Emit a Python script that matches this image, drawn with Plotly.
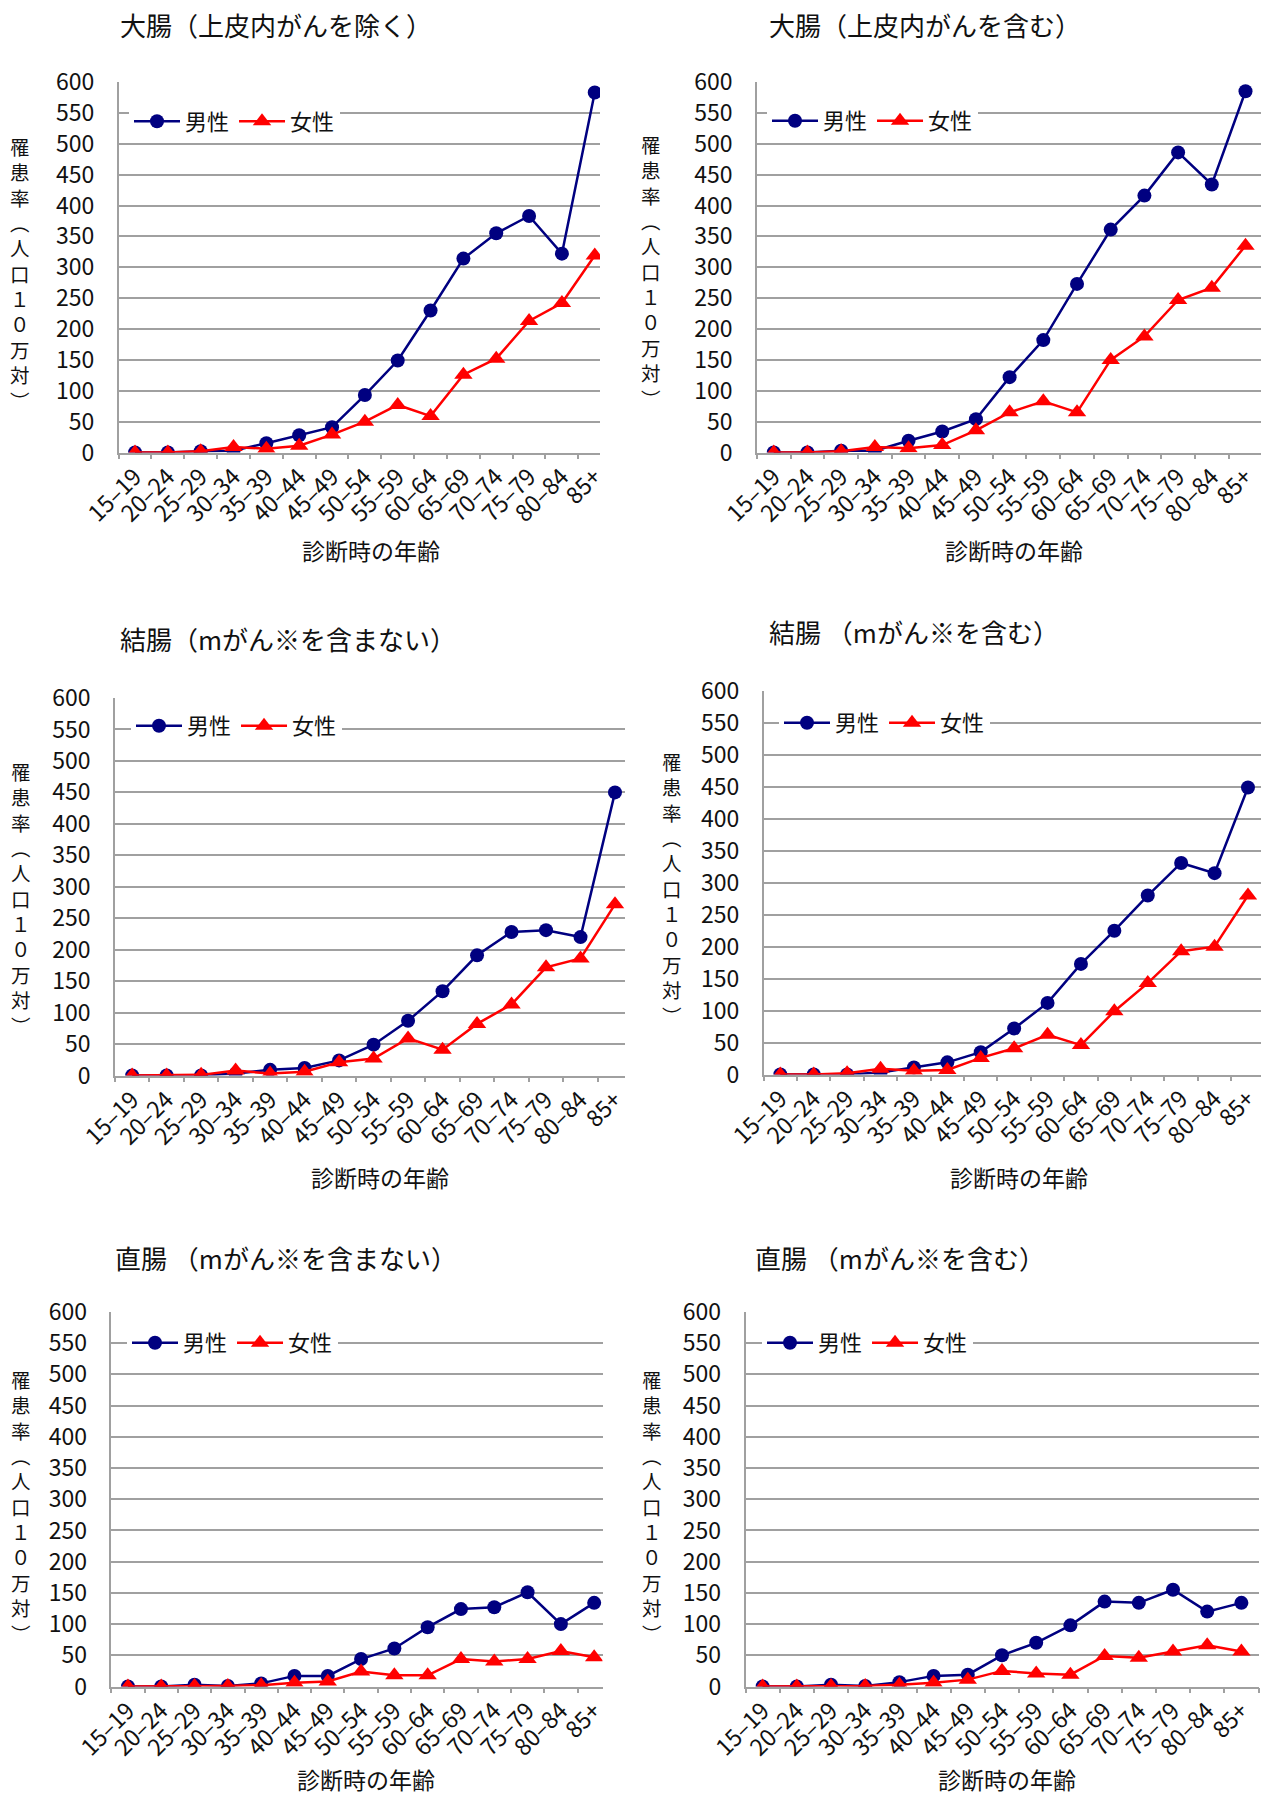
import plotly.graph_objects as go

# Age groups at diagnosis
age_groups = ["15–19", "20–24", "25–29", "30–34", "35–39", "40–44", "45–49",
              "50–54", "55–59", "60–64", "65–69", "70–74", "75–79", "80–84", "85+"]

# Incidence per 100,000 population
colorectal_excl_male = [0, 0, 2, 3, 15, 28, 41, 93, 149, 230, 314, 355, 383, 322, 583]
colorectal_excl_female = [0, 0, 2, 9, 6, 11, 29, 50, 77, 59, 126, 152, 213, 242, 319]

colorectal_incl_male = [0, 0, 3, 3, 19, 34, 54, 122, 182, 273, 361, 416, 486, 434, 585]
colorectal_incl_female = [0, 0, 2, 9, 7, 12, 36, 65, 83, 65, 150, 188, 247, 267, 335]

colon_excl_male = [0, 0, 0, 3, 9, 12, 24, 49, 87, 134, 191, 228, 231, 220, 450]
colon_excl_female = [0, 0, 1, 8, 3, 6, 21, 27, 59, 41, 82, 113, 172, 186, 272]

colon_incl_male = [0, 0, 0, 3, 11, 19, 35, 72, 112, 173, 225, 280, 331, 315, 449]
colon_incl_female = [0, 0, 2, 9, 6, 7, 26, 41, 62, 46, 99, 143, 193, 200, 280]

rectum_excl_male = [0, 0, 3, 1, 5, 17, 17, 44, 61, 95, 124, 127, 151, 100, 134]
rectum_excl_female = [0, 0, 1, 1, 2, 6, 8, 24, 18, 18, 44, 40, 44, 57, 47]

rectum_incl_male = [0, 0, 3, 1, 7, 17, 19, 50, 70, 98, 136, 134, 155, 120, 134]
rectum_incl_female = [0, 0, 1, 1, 3, 6, 11, 25, 21, 19, 49, 46, 56, 66, 56]

panel_titles = ["大腸（上皮内がんを除く）", "大腸（上皮内がんを含む）",
                "結腸（mがん※を含まない）", "結腸 （mがん※を含む）",
                "直腸 （mがん※を含まない）", "直腸 （mがん※を含む）"]
series_names = ["男性", "女性"]
x_title = "診断時の年齢"
y_title = "罹患率（人口１０万対）"
y_ticks = list(range(0, 601, 50))

W, H = 1261, 1796
FONT = "Noto Sans CJK JP"
MALE_COLOR = "#000080"
FEMALE_COLOR = "#ff0000"
GRID = "#a0a0a0"
TEXT = "#111111"

series = [
    (colorectal_excl_male, colorectal_excl_female),
    (colorectal_incl_male, colorectal_incl_female),
    (colon_excl_male, colon_excl_female),
    (colon_incl_male, colon_incl_female),
    (rectum_excl_male, rectum_excl_female),
    (rectum_incl_male, rectum_incl_female),
]

# Pixel geometry of each panel: plot box, right end of category range,
# title centre, axis-title centres, legend box left/centre
geom = [
    dict(l=118.6, r=600, t=82, b=452.5, xend=14.16, title=(276, 25),
         xt=(371, 550), yt=(20, 274), leg=(129, 121.5)),
    dict(l=756.9, r=1261, t=82, b=452.5, xend=14.46, title=(925, 25),
         xt=(1014, 550), yt=(651, 272), leg=(767, 121)),
    dict(l=114.9, r=625, t=698, b=1075.5, xend=14.29, title=(288, 638),
         xt=(380, 1177), yt=(21, 898), leg=(131, 726)),
    dict(l=763.6, r=1261, t=691, b=1074.5, xend=14.39, title=(914, 631),
         xt=(1019, 1177), yt=(672, 888), leg=(779, 723)),
    dict(l=111.3, r=602.5, t=1312, b=1686.5, xend=14.25, title=(286, 1257),
         xt=(366, 1779), yt=(21, 1506), leg=(127, 1343)),
    dict(l=745.5, r=1258.5, t=1312, b=1686.5, xend=14.5, title=(900, 1257),
         xt=(1007, 1779), yt=(652, 1506), leg=(762, 1343)),
]

# Vertical axis title: one glyph per line, parentheses in vertical form
vertical_title = "<br>".join(
    "︵" if c == "（" else "︶" if c == "）" else c for c in y_title)


def px(x):
    return x / W


def py(y):
    return 1 - y / H


fig = go.Figure()
annotations = []
layout_axes = {}

for i, ((male, female), g, title) in enumerate(zip(series, geom, panel_titles)):
    n = i + 1
    xa = "x" if n == 1 else f"x{n}"
    ya = "y" if n == 1 else f"y{n}"
    lg = "legend" if n == 1 else f"legend{n}"

    fig.add_trace(go.Scatter(
        x=age_groups, y=male, name=series_names[0], mode="lines+markers",
        xaxis=xa, yaxis=ya, legend=lg,
        line=dict(color=MALE_COLOR, width=2.5),
        marker=dict(symbol="circle", size=14, color=MALE_COLOR)))
    fig.add_trace(go.Scatter(
        x=age_groups, y=female, name=series_names[1], mode="lines+markers",
        xaxis=xa, yaxis=ya, legend=lg,
        line=dict(color=FEMALE_COLOR, width=2.5),
        marker=dict(symbol="triangle-up", size=16, color=FEMALE_COLOR)))

    xkey = "xaxis" if n == 1 else f"xaxis{n}"
    ykey = "yaxis" if n == 1 else f"yaxis{n}"
    layout_axes[xkey] = dict(
        domain=[px(g["l"]), px(g["r"])], anchor=ya, automargin=False,
        type="category", categoryorder="array", categoryarray=age_groups,
        range=[-0.5, g["xend"]], tickson="boundaries",
        ticks="outside", ticklen=5, tickwidth=1.5, tickcolor=GRID,
        showline=True, linecolor=GRID, linewidth=1.5, showgrid=False,
        tickangle=-45, tickfont=dict(family=FONT, size=23, color=TEXT),
        fixedrange=True)
    layout_axes[ykey] = dict(
        domain=[py(g["b"]), py(g["t"])], anchor=xa, automargin=False,
        range=[0, 600], tickvals=y_ticks, ticks="",
        showline=True, linecolor=GRID, linewidth=1.5,
        showgrid=True, gridcolor=GRID, gridwidth=1.5, zeroline=False,
        tickfont=dict(family=FONT, size=23, color=TEXT),
        ticklabelstandoff=18, fixedrange=True)

    layout_axes[lg] = dict(
        x=px(g["leg"][0]), y=py(g["leg"][1]), xanchor="left", yanchor="middle",
        xref="paper", yref="paper", orientation="h",
        bgcolor="white", borderwidth=0, itemwidth=46,
        font=dict(family=FONT, size=22, color=TEXT))

    annotations.append(dict(
        text=title, x=px(g["title"][0]), y=py(g["title"][1]),
        xref="paper", yref="paper", xanchor="center", yanchor="middle",
        showarrow=False, font=dict(family=FONT, size=26, color=TEXT)))
    annotations.append(dict(
        text=x_title, x=px(g["xt"][0]), y=py(g["xt"][1]),
        xref="paper", yref="paper", xanchor="center", yanchor="middle",
        showarrow=False, font=dict(family=FONT, size=23, color=TEXT)))
    annotations.append(dict(
        text=vertical_title, x=px(g["yt"][0]), y=py(g["yt"][1]),
        xref="paper", yref="paper", xanchor="center", yanchor="middle",
        showarrow=False, font=dict(family=FONT, size=19.5, color=TEXT)))

fig.update_layout(
    width=W, height=H, autosize=False,
    margin=dict(l=0, r=0, t=0, b=0, pad=0, autoexpand=False),
    paper_bgcolor="white", plot_bgcolor="white",
    showlegend=True, annotations=annotations,
    **layout_axes)

fig.write_html("out.html", config=dict(displayModeBar=False))
